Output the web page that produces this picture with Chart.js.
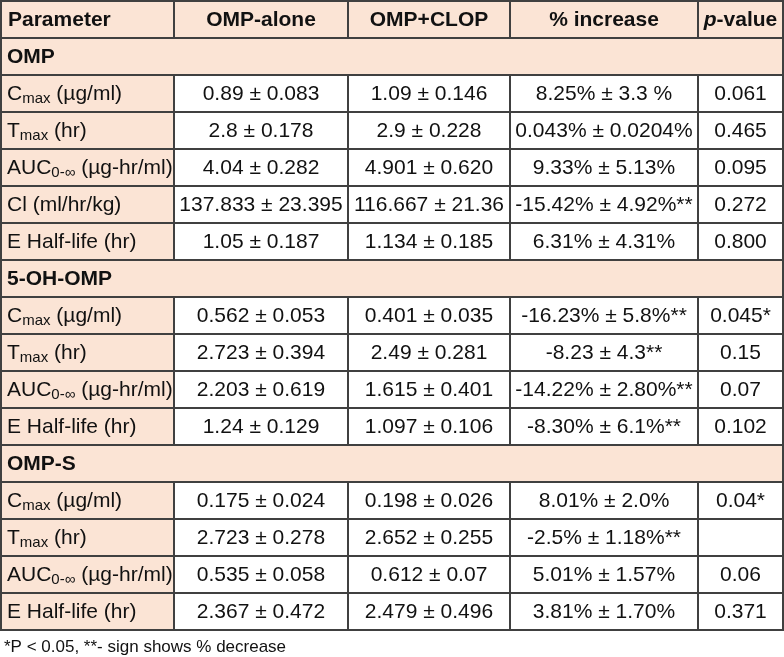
<!DOCTYPE html>
<html lang="en">
<head>
    <meta charset="UTF-8">
    <title>OMP pharmacokinetics table</title>
    <script src="https://cdn.jsdelivr.net/npm/chart.js"></script>
    <style>
        body { margin: 0; background: #fff; }
        #wrap { width: 784px; height: 657px; }
    </style>
</head>
<body>
<div id="wrap"><canvas id="pkTable" width="784" height="657"></canvas></div>

<script>
    // table content
    const headers = ['Parameter', 'OMP-alone', 'OMP+CLOP', '% increase', 'p-value'];
    const parameters = [
        'OMP',
        'C_max (µg/ml)', 'T_max (hr)', 'AUC_0-∞ (µg-hr/ml)', 'Cl (ml/hr/kg)', 'E Half-life (hr)',
        '5-OH-OMP',
        'C_max (µg/ml)', 'T_max (hr)', 'AUC_0-∞ (µg-hr/ml)', 'E Half-life (hr)',
        'OMP-S',
        'C_max (µg/ml)', 'T_max (hr)', 'AUC_0-∞ (µg-hr/ml)', 'E Half-life (hr)'
    ];
    const ompAlone = [null, '0.89 ± 0.083', '2.8 ± 0.178', '4.04 ± 0.282', '137.833 ± 23.395', '1.05 ± 0.187',
        null, '0.562 ± 0.053', '2.723 ± 0.394', '2.203 ± 0.619', '1.24 ± 0.129',
        null, '0.175 ± 0.024', '2.723 ± 0.278', '0.535 ± 0.058', '2.367 ± 0.472'];
    const ompClop = [null, '1.09 ± 0.146', '2.9 ± 0.228', '4.901 ± 0.620', '116.667 ± 21.36', '1.134 ± 0.185',
        null, '0.401 ± 0.035', '2.49 ± 0.281', '1.615 ± 0.401', '1.097 ± 0.106',
        null, '0.198 ± 0.026', '2.652 ± 0.255', '0.612 ± 0.07', '2.479 ± 0.496'];
    const pctIncrease = [null, '8.25% ± 3.3 %', '0.043% ± 0.0204%', '9.33% ± 5.13%', '-15.42% ± 4.92%**', '6.31% ± 4.31%',
        null, '-16.23% ± 5.8%**', '-8.23 ± 4.3**', '-14.22% ± 2.80%**', '-8.30% ± 6.1%**',
        null, '8.01% ± 2.0%', '-2.5% ± 1.18%**', '5.01% ± 1.57%', '3.81% ± 1.70%'];
    const pValues = [null, '0.061', '0.465', '0.095', '0.272', '0.800',
        null, '0.045*', '0.15', '0.07', '0.102',
        null, '0.04*', '', '0.06', '0.371'];
    const footnote = '*P < 0.05, **- sign shows % decrease';

    // layout
    const colWidths = [173, 174, 162, 188, 85];
    const edges = [0];
    colWidths.forEach(w => edges.push(edges[edges.length - 1] + w));
    const total = edges[edges.length - 1];
    const peach = '#fbe4d5';
    const lineColor = '#404040';
    const font = '"Liberation Sans", Arial, sans-serif';

    const rowLabels = [headers[0]].concat(parameters);
    const columns = [parameters, ompAlone, ompClop, pctIncrease, pValues];
    const isSection = i => i > 0 && ompAlone[i - 1] === null;

    const datasets = columns.map((col, c) => ({
        label: headers[c],
        data: rowLabels.map((_, i) => {
            if (isSection(i)) return c === 0 ? [0, total] : null;
            return [edges[c], edges[c + 1]];
        }),
        backgroundColor: rowLabels.map((_, i) => (i === 0 || c === 0 || isSection(i)) ? peach : '#fff'),
        borderColor: lineColor,
        borderWidth: 1,
        borderSkipped: false,
        inflateAmount: 0,
        barPercentage: 1,
        categoryPercentage: 1,
        grouped: false
    }));

    // draw "C_max" style labels with a subscript part
    function drawRich(ctx, text, x, y, size, bold) {
        const m = text.match(/^(\w+)_(\S+)(.*)$/);
        const weight = bold ? 'bold ' : '';
        ctx.textAlign = 'left';
        if (!m) {
            ctx.font = weight + size + 'px ' + font;
            ctx.fillText(text, x, y);
            return;
        }
        ctx.font = weight + size + 'px ' + font;
        ctx.fillText(m[1], x, y);
        x += ctx.measureText(m[1]).width;
        ctx.font = weight + Math.round(size * 0.7) + 'px ' + font;
        ctx.fillText(m[2], x, y + 4);
        x += ctx.measureText(m[2]).width;
        ctx.font = weight + size + 'px ' + font;
        ctx.fillText(m[3], x, y);
    }

    const tableText = {
        id: 'tableText',
        afterDatasetsDraw(chart) {
            const ctx = chart.ctx;
            const area = chart.chartArea;
            ctx.save();
            // outer border
            ctx.strokeStyle = lineColor;
            ctx.lineWidth = 1;
            ctx.strokeRect(area.left - 0.5, area.top - 0.5, area.right - area.left + 1, area.bottom - area.top + 1);

            ctx.fillStyle = '#111';
            ctx.textBaseline = 'middle';
            rowLabels.forEach((label, i) => {
                columns.forEach((col, c) => {
                    const el = chart.getDatasetMeta(c).data[i];
                    if (!el || el.skip) return;
                    const left = Math.min(el.x, el.base);
                    const right = Math.max(el.x, el.base);
                    const y = el.y + 1;
                    if (i === 0) {
                        if (c === 0) {
                            drawRich(ctx, headers[0], left + 7, y, 21, true);
                        } else if (c === 4) {
                            ctx.font = 'italic bold 21px ' + font;
                            const w1 = ctx.measureText('p').width;
                            ctx.font = 'bold 21px ' + font;
                            const w2 = ctx.measureText('-value').width;
                            let x = (left + right) / 2 - (w1 + w2) / 2;
                            ctx.textAlign = 'left';
                            ctx.font = 'italic bold 21px ' + font;
                            ctx.fillText('p', x, y);
                            ctx.font = 'bold 21px ' + font;
                            ctx.fillText('-value', x + w1, y);
                        } else {
                            ctx.font = 'bold 21px ' + font;
                            ctx.textAlign = 'center';
                            ctx.fillText(headers[c], (left + right) / 2, y);
                        }
                        return;
                    }
                    const text = col[i - 1];
                    if (c === 0) {
                        drawRich(ctx, text, left + 6, y, 21, isSection(i));
                    } else if (text) {
                        ctx.font = '21px ' + font;
                        ctx.textAlign = 'center';
                        ctx.fillText(text, (left + right) / 2, y);
                    }
                });
            });

            ctx.font = '17px ' + font;
            ctx.textAlign = 'left';
            ctx.fillText(footnote, area.left + 3, area.bottom + 17);
            ctx.restore();
        }
    };

    new Chart(document.getElementById('pkTable').getContext('2d'), {
        type: 'bar',
        data: { labels: rowLabels, datasets: datasets },
        options: {
            indexAxis: 'y',
            responsive: false,
            animation: false,
            layout: { padding: { top: 1, left: 1, right: 1, bottom: 27 } },
            scales: {
                x: { type: 'linear', min: 0, max: total, display: false },
                y: { type: 'category', display: false }
            },
            plugins: {
                legend: { display: false },
                tooltip: { enabled: false }
            }
        },
        plugins: [tableText]
    });
</script>
</body>
</html>
